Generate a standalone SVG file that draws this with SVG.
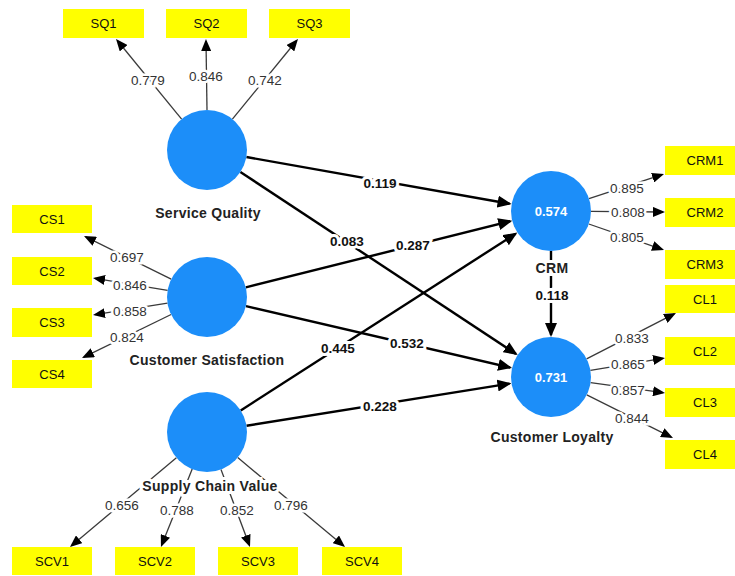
<svg xmlns="http://www.w3.org/2000/svg" width="735" height="576" viewBox="0 0 735 576">
<style>
.bg{fill:#fff}
.lv{fill:#1C8EF9}
.box{fill:#FFFF00}
.bt{font-family:"Liberation Sans",Arial,sans-serif;font-size:13px;fill:#111;text-anchor:middle}
.nl{font-family:"Liberation Sans",Arial,sans-serif;font-size:14px;font-weight:bold;fill:#222;text-anchor:middle;letter-spacing:0.3px;paint-order:stroke;stroke:#fff;stroke-width:6px}
.r2{font-family:"Liberation Sans",Arial,sans-serif;font-size:13px;font-weight:bold;fill:#fff;text-anchor:middle}
.s{stroke:#000;stroke-width:2.4;fill:none;marker-end:url(#ah)}
.m{stroke:#3a3a3a;stroke-width:1.3;fill:none;marker-end:url(#am)}
.sl{font-family:"Liberation Sans",Arial,sans-serif;font-size:13.5px;font-weight:bold;fill:#111;text-anchor:middle;paint-order:stroke;stroke:#fff;stroke-width:6px}
.ml{font-family:"Liberation Sans",Arial,sans-serif;font-size:13.5px;fill:#333;text-anchor:middle;paint-order:stroke;stroke:#fff;stroke-width:5px}
</style>
<defs>
<marker id="ah" markerUnits="userSpaceOnUse" markerWidth="14" markerHeight="12" refX="12" refY="6" orient="auto"><path d="M0,0 L14,6 L0,12 z" fill="#000"/></marker>
<marker id="am" markerUnits="userSpaceOnUse" markerWidth="12" markerHeight="10" refX="10" refY="5" orient="auto"><path d="M0,0 L12,5 L0,10 z" fill="#000"/></marker>
</defs>
<rect class="bg" x="0" y="0" width="735" height="576"/>
<g id="connectors">
<line class="s" x1="246.4" y1="157.0" x2="509.6" y2="203.7"/>
<line class="s" x1="240.4" y1="172.0" x2="516.0" y2="353.9"/>
<line class="s" x1="245.8" y1="287.3" x2="510.3" y2="221.2"/>
<line class="s" x1="246.0" y1="306.1" x2="510.1" y2="367.5"/>
<line class="s" x1="240.7" y1="410.4" x2="515.7" y2="233.7"/>
<line class="s" x1="246.5" y1="425.7" x2="509.5" y2="383.6"/>
<line class="s" x1="551" y1="251" x2="551" y2="335"/>
<line class="m" x1="181.6" y1="119.1" x2="117.3" y2="40.5"/>
<line class="m" x1="207" y1="110" x2="206" y2="41"/>
<line class="m" x1="232.4" y1="119.1" x2="296.7" y2="40.5"/>
<line class="m" x1="171.2" y1="279.2" x2="85.8" y2="236.9"/>
<line class="m" x1="167.6" y1="290.4" x2="95.0" y2="278.3"/>
<line class="m" x1="167.5" y1="303.2" x2="95.0" y2="314.7"/>
<line class="m" x1="171.1" y1="314.5" x2="83.8" y2="357.1"/>
<line class="m" x1="176.4" y1="457.7" x2="71.5" y2="545.7"/>
<line class="m" x1="192.2" y1="469.1" x2="161.7" y2="545.1"/>
<line class="m" x1="221.0" y1="469.5" x2="249.3" y2="545.1"/>
<line class="m" x1="237.7" y1="457.6" x2="343.5" y2="545.7"/>
<line class="m" x1="589" y1="198.6" x2="662.1" y2="174.6"/>
<line class="m" x1="591" y1="211.4" x2="663" y2="212"/>
<line class="m" x1="588.8" y1="224.0" x2="662.1" y2="249.3"/>
<line class="m" x1="586.6" y1="358.8" x2="674.2" y2="313.9"/>
<line class="m" x1="590.4" y1="370.4" x2="663.0" y2="358.3"/>
<line class="m" x1="590.6" y1="382.6" x2="663.0" y2="392.7"/>
<line class="m" x1="586.8" y1="394.9" x2="671.2" y2="437.1"/>
<text class="sl" x="380" y="187.5">0.119</text>
<text class="sl" x="347" y="245.5">0.083</text>
<text class="sl" x="413" y="249.5">0.287</text>
<text class="sl" x="407" y="347.5">0.532</text>
<text class="sl" x="338" y="352.5">0.445</text>
<text class="sl" x="380" y="410.5">0.228</text>
<text class="sl" x="552" y="299.5">0.118</text>
<text class="ml" x="148" y="84.5">0.779</text>
<text class="ml" x="206" y="80.5">0.846</text>
<text class="ml" x="265" y="84.5">0.742</text>
<text class="ml" x="127" y="261.5">0.697</text>
<text class="ml" x="130" y="289.5">0.846</text>
<text class="ml" x="130" y="315.5">0.858</text>
<text class="ml" x="127" y="341.5">0.824</text>
<text class="ml" x="122" y="509.5">0.656</text>
<text class="ml" x="177" y="514.5">0.788</text>
<text class="ml" x="237" y="514.5">0.852</text>
<text class="ml" x="291" y="509.5">0.796</text>
<text class="ml" x="627" y="192.5">0.895</text>
<text class="ml" x="628" y="216.5">0.808</text>
<text class="ml" x="627" y="241.5">0.805</text>
<text class="ml" x="632" y="342.5">0.833</text>
<text class="ml" x="628" y="368.5">0.865</text>
<text class="ml" x="628" y="394.5">0.857</text>
<text class="ml" x="632" y="422.5">0.844</text>
</g>
<g id="service-quality"><circle class="lv" cx="207" cy="150" r="40"/><text class="nl" x="208" y="218">Service Quality</text></g>
<g id="customer-satisfaction"><circle class="lv" cx="207" cy="297" r="40"/><text class="nl" x="207" y="365">Customer Satisfaction</text></g>
<g id="supply-chain-value"><circle class="lv" cx="207" cy="432" r="40"/><text class="nl" x="210" y="491">Supply Chain Value</text></g>
<g id="crm"><circle class="lv" cx="551" cy="211" r="40"/><text class="r2" x="551" y="215.5">0.574</text><text class="nl" x="552" y="273">CRM</text></g>
<g id="customer-loyalty"><circle class="lv" cx="551" cy="377" r="40"/><text class="r2" x="551" y="381.5">0.731</text><text class="nl" x="552" y="442">Customer Loyalty</text></g>
<g id="SQ1"><rect class="box" x="63" y="9" width="81" height="29"/><text class="bt" x="103.5" y="28">SQ1</text></g>
<g id="SQ2"><rect class="box" x="166" y="9" width="81" height="29"/><text class="bt" x="206.5" y="28">SQ2</text></g>
<g id="SQ3"><rect class="box" x="269" y="9" width="81" height="29"/><text class="bt" x="309.5" y="28">SQ3</text></g>
<g id="CS1"><rect class="box" x="12" y="205" width="80" height="28"/><text class="bt" x="52" y="223.5">CS1</text></g>
<g id="CS2"><rect class="box" x="12" y="257" width="80" height="28"/><text class="bt" x="52" y="275.5">CS2</text></g>
<g id="CS3"><rect class="box" x="12" y="308" width="80" height="29"/><text class="bt" x="52" y="327">CS3</text></g>
<g id="CS4"><rect class="box" x="12" y="360" width="80" height="28"/><text class="bt" x="52" y="378.5">CS4</text></g>
<g id="SCV1"><rect class="box" x="12" y="547" width="80" height="28"/><text class="bt" x="52" y="565.5">SCV1</text></g>
<g id="SCV2"><rect class="box" x="115" y="547" width="80" height="28"/><text class="bt" x="155" y="565.5">SCV2</text></g>
<g id="SCV3"><rect class="box" x="218" y="547" width="80" height="28"/><text class="bt" x="258" y="565.5">SCV3</text></g>
<g id="SCV4"><rect class="box" x="322" y="547" width="80" height="28"/><text class="bt" x="362" y="565.5">SCV4</text></g>
<g id="CRM1"><rect class="box" x="665" y="146" width="80" height="29"/><text class="bt" x="705" y="165">CRM1</text></g>
<g id="CRM2"><rect class="box" x="665" y="198" width="80" height="29"/><text class="bt" x="705" y="217">CRM2</text></g>
<g id="CRM3"><rect class="box" x="665" y="250" width="80" height="29"/><text class="bt" x="705" y="269">CRM3</text></g>
<g id="CL1"><rect class="box" x="665" y="285" width="80" height="28"/><text class="bt" x="705" y="303.5">CL1</text></g>
<g id="CL2"><rect class="box" x="665" y="337" width="80" height="28"/><text class="bt" x="705" y="355.5">CL2</text></g>
<g id="CL3"><rect class="box" x="665" y="388" width="80" height="29"/><text class="bt" x="705" y="407">CL3</text></g>
<g id="CL4"><rect class="box" x="665" y="440" width="80" height="29"/><text class="bt" x="705" y="459">CL4</text></g>
</svg>
